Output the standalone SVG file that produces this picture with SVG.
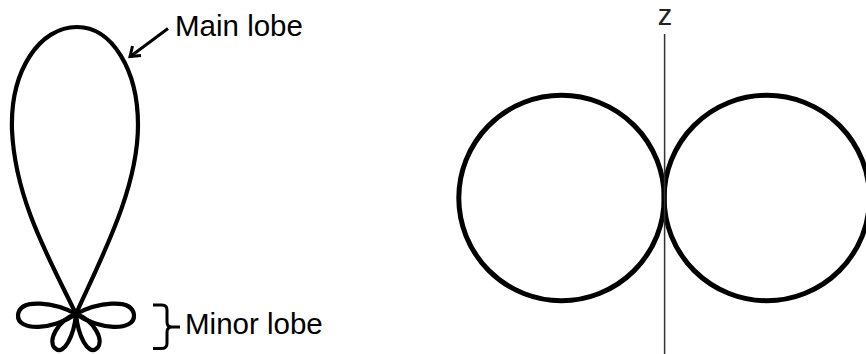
<svg xmlns="http://www.w3.org/2000/svg" width="866" height="354" viewBox="0 0 866 354">
<style>
.lobe{fill:none;stroke:#000;stroke-width:4.2;stroke-linejoin:round}
.thick{fill:none;stroke:#000;stroke-width:5}
.lbl{font-family:"Liberation Sans",Arial,sans-serif;font-size:29.5px;fill:#000}
.conn{fill:none;stroke:#000;stroke-width:3;stroke-linecap:butt;stroke-linejoin:miter}
</style>
<rect width="866" height="354" fill="#fff"/>
<g id="main-lobe">
<path class="lobe" d="M76,314 C50,260 15,200 12,130 C10,70 40,27 77,27 C112,27 138,70 138,125 C138,190 100,260 76,314 Z"/>
</g>
<g id="minor-lobes">
<path class="lobe" d="M76,314 C56,303 20,297 18,315 C17,332 54,330 76,314 Z"/>
<path class="lobe" d="M76,314 C96,303 132,297 134,315 C135,332 98,330 76,314 Z"/>
<path class="lobe" d="M76,314 C58,320 46,342 56,349 C64,355 74,336 76,314 Z"/>
<path class="lobe" d="M76,314 C94,320 106,342 96,349 C88,355 78,336 76,314 Z"/>
</g>
<g id="label-main">
<text class="lbl" x="175" y="36">Main lobe</text>
</g>
<g id="label-minor">
<text class="lbl" x="185" y="334">Minor lobe</text>
</g>
<g id="dipole">
<circle class="thick" cx="561.5" cy="198" r="102.7"/>
<circle class="thick" cx="766.8" cy="198" r="102.7"/>
</g>
<g id="axis">
<line x1="664.6" y1="34" x2="664.6" y2="354" stroke="#333" stroke-width="1.5"/>
<text x="665" y="24.5" text-anchor="middle" font-family="'Liberation Sans',Arial,sans-serif" font-size="29" fill="#222">z</text>
</g>
<g id="connectors">
<line class="conn" x1="168" y1="28.5" x2="131" y2="56"/>
<polyline class="conn" points="132.5,46 130,56.5 141,55.5"/>
<path class="conn" d="M153,305 H162 Q167,305 167,310 V322 Q167,327 172,327 H180 M172,327 Q167,327 167,332 V343 Q167,348.5 162,348.5 H153"/>
</g>
</svg>
